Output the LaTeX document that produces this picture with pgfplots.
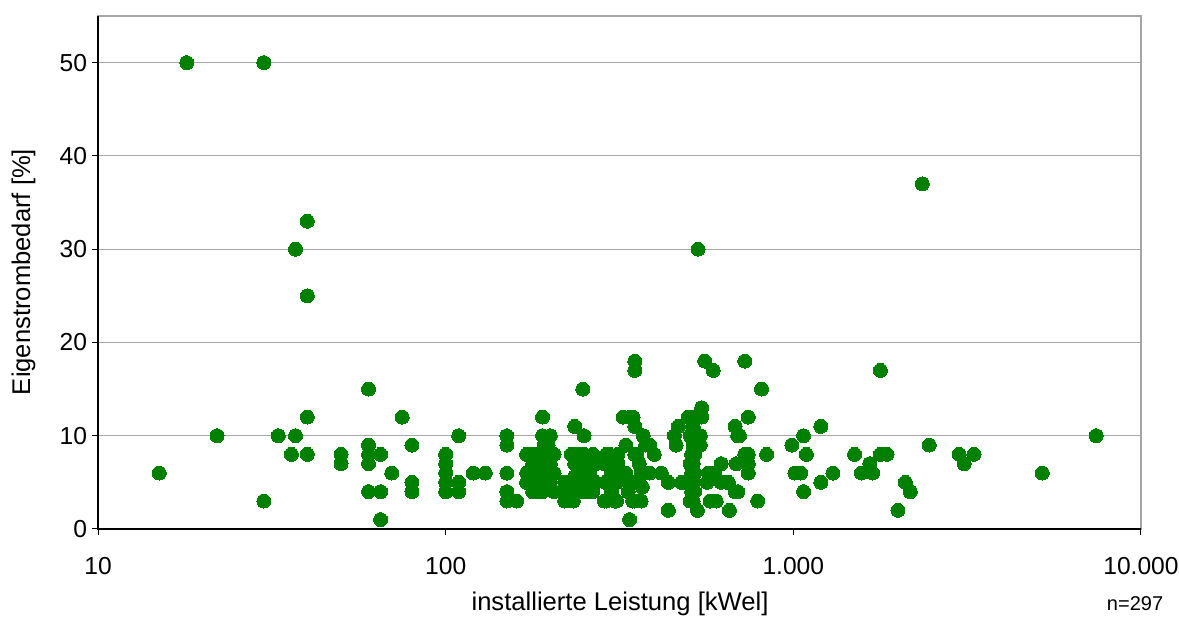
\documentclass[border=0pt]{standalone}
\usepackage{pgfplots}
\pgfplotsset{compat=1.18}
\usepackage{fontspec}
\setmainfont{Liberation Sans}
\definecolor{dotgreen}{HTML}{008000}
\definecolor{gridgray}{HTML}{A6A6A6}
\begin{document}
\begin{tikzpicture}
\path[use as bounding box] (0,0) rectangle (589.5pt,309.5pt);
\begin{axis}[
  at={(49pt,45pt)}, anchor=south west,
  scale only axis, width=521.5pt, height=256.5pt,
  xmode=log, xmin=10, xmax=10000, ymin=0, ymax=55,
  xtick={10,100,1000,10000}, xticklabels={10,100,{1.000},{10.000}},
  ytick={0,10,20,30,40,50}, yticklabels={0,10,20,30,40,50},
  xminorticks=false, yminorticks=false,
  ymajorgrids, grid style={gridgray, line width=0.5pt},
  axis line style={gridgray, line width=0.6pt},
  tick align=outside, xtick pos=left, ytick pos=left,
  major tick length=3pt, tick style={black, line width=0.5pt},
  tick label style={font=\fontsize{12.3}{14}\selectfont},
  xticklabel style={anchor=base, yshift=-20pt},
  yticklabel style={anchor=east, xshift=1pt},
  label style={font=\fontsize{12.8}{15}\selectfont},
  xlabel={installierte Leistung [kWel]},
  xlabel style={at={(axis description cs:0.5005,-0.146)}, anchor=center},
  ylabel={Eigenstrombedarf [\%]},
  ylabel style={at={(axis description cs:-0.0715,0.501)}, anchor=center},
  clip=false,
]
\addplot[only marks, mark=*, mark size=3.5pt, mark options={fill=dotgreen, draw=dotgreen, line width=0pt}] table {
x y
15 6
18 50
22 10
30 50
30 3
33 10
36 8
37 10
37 30
40 33
40 25
40 12
40 8
50 8
50 7
60 15
60 9
60 8
60 7
60 4
65 8
65 4
65 1
70 6
75 12
80 9
80 5
80 4
100 8
100 7
100 6
100 5
100 4
109 10
109 5
109 4
120 6
130 6
150 10
150 9
150 6
150 4
150 3
160 3
171 8
171 6
171 5
178 8
178 7
178 6
178 5
178 4
185 8
185 7
185 6
185 5
185 4
190 12
190 10
192 9
190 8
190 6
190 5
190 4
196 7
196 6
196 5
197 9
200 10
200 8
200 7
200 6
200 5
205 8
205 6
205 4
220 5
220 4
220 3
230 8
233 3
235 11
235 7
235 5.6
235 4.5
240 8
240 7
240 6
240 5
240 4
245 8
245 4
248 15
250 10
250 8
250 6
250 5
255 7
255 4
260 6
265 8
265 4
270 5
270 7
286 7
286 3
288 5
290 8
292 7
290 5
290 3
296 8
300 6
300 4
307 3
310 5
310 3
313 8
313 7
324 12
330 9
330 6
335 5
335 4
338 1
340 12
345 5
345 3
346 12
350 18
350 17
350 11
350 8
350 5
350 3
355 8
360 7
360 5
365 6
365 3
368 4.5
370 10
376 9
376 6
386 9
386 6
398 8
417 6
437 5
437 2
455 10
460 9
467 11
477 5
490 5
498 12
505 10
505 7
505 5
505 3
510 12
510 10
510 8
510 6
510 4
515 11
515 9
515 7
515 5
515 3
520 8
520 6
520 4
530 2
532 30
540 10
540 9
545 13
545 12
556 18
565 5
570 6
576 3
588 17
593 6
600 3
620 7
620 5
645 5
650 5
655 2
680 11
680 4
685 7
692 10
692 4
700 10
725 18
725 8
742 12
742 8
742 7
742 6
790 3
810 15
838 8
990 9
1010 6
1050 6
1070 10
1070 4
1090 8
1200 11
1200 5
1300 6
1500 8
1570 6
1660 7
1690 6
1780 17
1780 8
1860 8
2000 2
2100 5
2170 4
2350 37
2460 9
3000 8
3100 7
3310 8
5200 6
7430 10
};
\draw[black, line width=0.6pt] (rel axis cs:0,1) -- (rel axis cs:0,0) -- (rel axis cs:1,0);
\node[anchor=east, font=\fontsize{10}{12}\selectfont] at (rel axis cs:1.028,-0.146) {n=297};
\end{axis}
\end{tikzpicture}
\end{document}
